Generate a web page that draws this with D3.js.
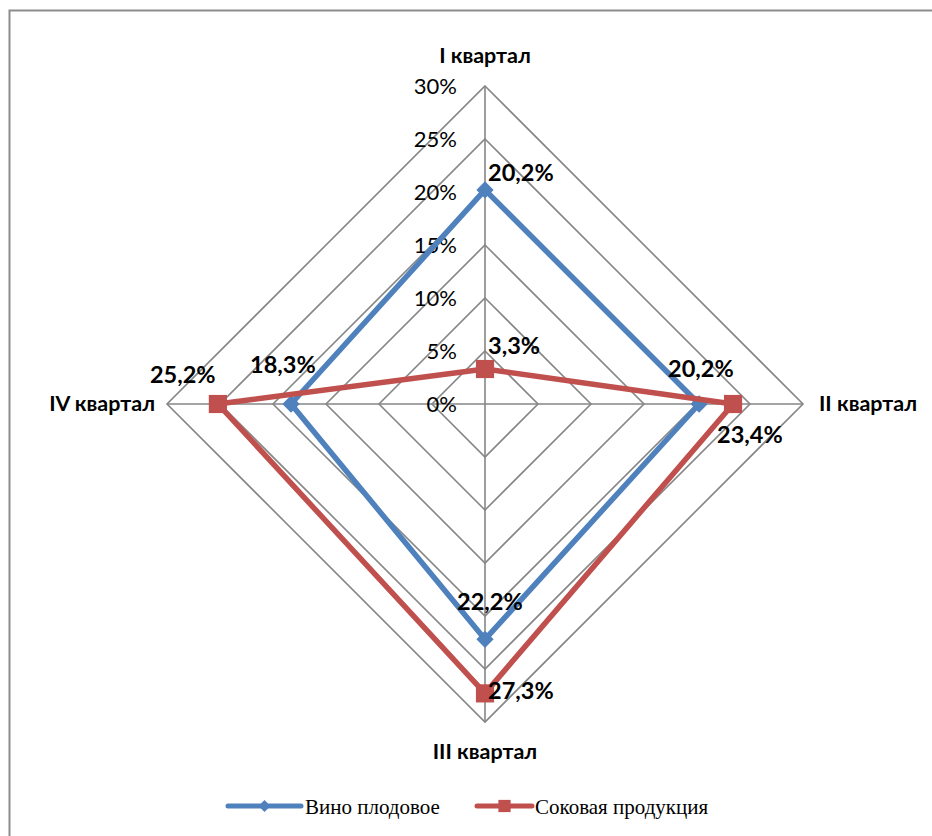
<!DOCTYPE html>
<html>
  <head>
    <meta charset="utf-8" />
    <title>Radar</title>
    <script src="https://d3js.org/d3.v7.min.js"></script>
    <style>
      body { margin: 0; background: #fff; }
    </style>
  </head>
  <body>
    <svg id="chart" width="932" height="836"></svg>
  </body>
  <script>
    // data
    var quarters = ["I квартал", "II квартал", "III квартал", "IV квартал"];
    var wine = [20.2, 20.2, 22.2, 18.3];
    var juice = [3.3, 23.4, 27.3, 25.2];
    var ticks = [0, 5, 10, 15, 20, 25, 30];
    var seriesNames = ["Вино плодовое", "Соковая продукция"];

    // label nudges (text start / baseline relative to the point)
    var wineLabelOffset = [[3, -9], [-31, -27], [-28, -29], [-41, -31]];
    var juiceLabelOffset = [[3, -15], [-16, 39], [3, 6], [-68, -21]];

    var svg = d3.select("#chart");
    var cx = 485, cy = 404;
    var r = d3.scaleLinear().domain([0, 30]).range([0, 318]);
    var angle = d3.scaleLinear().domain([0, quarters.length]).range([0, 2 * Math.PI]);

    var pt = function(i, v) {
      var a = angle(i);
      return [cx + Math.sin(a) * r(v), cy - Math.cos(a) * r(v)];
    };

    // frame
    svg.append("path")
      .attr("d", "M9.5,836 L9.5,10.5 L932,10.5")
      .attr("fill", "none")
      .attr("stroke", "#8c8c8c")
      .attr("stroke-width", 2);

    // grid diamonds
    var grid = svg.append("g");
    ticks.slice(1).forEach(function(t) {
      grid.append("path")
        .attr("d", d3.line()(d3.range(quarters.length).map(function(i) { return pt(i, t); })) + "Z")
        .attr("fill", "none")
        .attr("stroke", "#868686")
        .attr("stroke-width", 1.6);
    });
    quarters.forEach(function(q, i) {
      var p = pt(i, 30);
      grid.append("line")
        .attr("x1", cx).attr("y1", cy)
        .attr("x2", p[0]).attr("y2", p[1])
        .attr("stroke", "#868686")
        .attr("stroke-width", 1.6);
    });

    // tick labels
    svg.selectAll(".tick")
      .data(ticks)
      .enter().append("text")
      .attr("class", "tick")
      .attr("x", cx - 28)
      .attr("y", function(d) { return cy - r(d) + 8; })
      .attr("text-anchor", "end")
      .attr("font-family", "Lato")
      .attr("font-size", 22)
      .attr("fill", "#000")
      .text(function(d) { return d + "%"; });

    // category labels
    var catPos = [
      { x: cx, y: cy - r(30) - 23, anchor: "middle" },
      { x: cx + r(30) + 16, y: cy + 7, anchor: "start" },
      { x: cx, y: cy + r(30) + 37, anchor: "middle" },
      { x: cx - r(30) - 12, y: cy + 7, anchor: "end" }
    ];
    svg.selectAll(".cat")
      .data(quarters)
      .enter().append("text")
      .attr("class", "cat")
      .attr("x", function(d, i) { return catPos[i].x; })
      .attr("y", function(d, i) { return catPos[i].y; })
      .attr("text-anchor", function(d, i) { return catPos[i].anchor; })
      .attr("font-family", "Lato")
      .attr("font-weight", "bold")
      .attr("font-size", 21.5)
      .text(function(d) { return d; });

    var colors = ["#4F81BD", "#C0504D"];
    var allSeries = [wine, juice];
    var offsets = [wineLabelOffset, juiceLabelOffset];

    allSeries.forEach(function(values, s) {
      var pts = values.map(function(v, i) { return pt(i, v); });
      svg.append("path")
        .attr("d", d3.line()(pts) + "Z")
        .attr("fill", "none")
        .attr("stroke", colors[s])
        .attr("stroke-width", 5.5)
        .attr("stroke-linejoin", "round");

      var sym = s === 0 ? d3.symbol().type(d3.symbolDiamond2).size(190)
                        : d3.symbol().type(d3.symbolSquare).size(330);
      svg.selectAll(".m" + s)
        .data(pts)
        .enter().append("path")
        .attr("class", "m" + s)
        .attr("transform", function(d) { return "translate(" + d[0] + "," + d[1] + ")"; })
        .attr("d", sym)
        .attr("fill", colors[s]);
    });

    allSeries.forEach(function(values, s) {
      svg.selectAll(".lbl" + s)
        .data(values)
        .enter().append("text")
        .attr("class", "lbl" + s)
        .attr("x", function(d, i) { return pt(i, d)[0] + offsets[s][i][0]; })
        .attr("y", function(d, i) { return pt(i, d)[1] + offsets[s][i][1]; })
        .attr("font-family", "Lato")
        .attr("font-weight", "bold")
        .attr("font-size", 23.5)
        .text(function(d) { return d.toFixed(1).replace(".", ",") + "%"; });
    });

    // legend
    var legendX = [228, 477];
    var legendY = 806;
    seriesNames.forEach(function(name, s) {
      var g = svg.append("g").attr("transform", "translate(" + legendX[s] + "," + legendY + ")");
      g.append("line")
        .attr("x1", 0).attr("x2", s === 0 ? 73 : 55)
        .attr("y1", 0).attr("y2", 0)
        .attr("stroke", colors[s])
        .attr("stroke-width", 5)
        .attr("stroke-linecap", "round");
      g.append("path")
        .attr("transform", "translate(" + (s === 0 ? 36.5 : 27.5) + ",0)")
        .attr("d", s === 0 ? d3.symbol().type(d3.symbolDiamond2).size(90)()
                           : d3.symbol().type(d3.symbolSquare).size(150)())
        .attr("fill", colors[s]);
      g.append("text")
        .attr("x", s === 0 ? 77 : 58)
        .attr("y", 8)
        .attr("font-family", "Liberation Serif")
        .attr("font-size", 21)
        .text(name);
    });
  </script>
</html>
